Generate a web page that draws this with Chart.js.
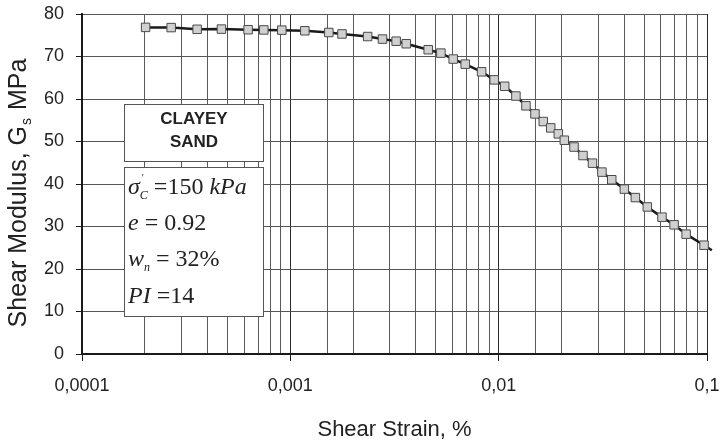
<!DOCTYPE html>
<html>
<head>
<meta charset="utf-8">
<script src="https://cdn.jsdelivr.net/npm/chart.js@4/dist/chart.umd.min.js"></script>
<style>
  html, body { margin: 0; padding: 0; background: #fff; }
  #wrap { width: 721px; height: 444px; position: relative; }
</style>
</head>
<body>
<div id="wrap"><canvas id="c" width="721" height="444"></canvas></div>
<script>
// ---- data ----
const shearStrain = [2.02e-4, 2.68e-4, 3.57e-4, 4.67e-4, 6.27e-4, 7.46e-4, 9.1e-4, 1.174e-3, 1.53e-3, 1.77e-3,
  2.35e-3, 2.77e-3, 3.22e-3, 3.6e-3, 4.59e-3, 5.28e-3, 6.05e-3, 6.91e-3, 8.28e-3, 9.52e-3,
  1.069e-2, 1.21e-2, 1.352e-2, 1.494e-2, 1.637e-2, 1.778e-2, 1.933e-2, 2.066e-2, 2.30e-2, 2.54e-2,
  2.82e-2, 3.13e-2, 3.49e-2, 4.01e-2, 4.53e-2, 5.17e-2, 6.08e-2, 6.95e-2, 7.94e-2, 9.68e-2, 0.1055];
const shearModulus = [76.85, 76.8, 76.4, 76.45, 76.3, 76.25, 76.2, 76.05, 75.65, 75.3,
  74.7, 74.1, 73.6, 73.0, 71.6, 70.8, 69.4, 68.2, 66.4, 64.5,
  63.0, 60.7, 58.4, 56.5, 54.7, 53.2, 51.8, 50.3, 48.7, 46.7,
  44.9, 42.8, 41.0, 38.8, 36.8, 34.6, 32.2, 30.4, 28.2, 25.6, 24.4];
const markerShown = shearStrain.map((v, i) => i < shearStrain.length - 1);
const xTickLabels = ['0,0001', '0,001', '0,01', '0,1'];
const yTickValues = [0, 10, 20, 30, 40, 50, 60, 70, 80];
const xTitle = 'Shear Strain, %';
const yTitleMain = 'Shear Modulus, G';
const yTitleSub = 's';
const yTitleEnd = ' MPa';
const soilName = ['CLAYEY', 'SAND'];

const points = shearStrain.map((x, i) => ({ x: x, y: shearModulus[i] }));

function isMajor(v) {
  const l = Math.log10(v);
  return Math.abs(l - Math.round(l)) < 1e-6;
}

function drawRich(ctx, x, y, segs) {
  let cx = x;
  segs.forEach(s => {
    ctx.font = (s.italic ? 'italic ' : '') + s.size + 'px "Liberation Serif", "Times New Roman", serif';
    ctx.fillText(s.t, cx + (s.dx || 0), y + (s.dy || 0));
    if (!s.noAdvance) cx += ctx.measureText(s.t).width + (s.dx || 0) + (s.gap || 0);
  });
}

const overlay = {
  id: 'overlay',
  afterDraw(chart) {
    const ctx = chart.ctx;
    const area = chart.chartArea;
    ctx.save();
    // axis titles
    ctx.fillStyle = '#222';
    ctx.font = '22px "Liberation Sans", Arial, sans-serif';
    ctx.textAlign = 'center';
    ctx.textBaseline = 'alphabetic';
    ctx.fillText(xTitle, (area.left + area.right) / 2, 436);

    ctx.save();
    const big = '25px "Liberation Sans", Arial, sans-serif';
    const small = '14px "Liberation Sans", Arial, sans-serif';
    ctx.font = big;
    const w1 = ctx.measureText(yTitleMain).width;
    const w3 = ctx.measureText(yTitleEnd).width;
    ctx.font = small;
    const w2 = ctx.measureText(yTitleSub).width + 2;
    const total = w1 + w2 + w3;
    ctx.translate(26, 193);
    ctx.rotate(-Math.PI / 2);
    ctx.textAlign = 'left';
    let sx = -total / 2;
    ctx.font = big;
    ctx.fillText(yTitleMain, sx, 0);
    sx += w1 + 1;
    ctx.font = small;
    ctx.fillText(yTitleSub, sx, 5);
    sx += w2 - 1;
    ctx.font = big;
    ctx.fillText(yTitleEnd, sx, 0);
    ctx.restore();

    // soil name box
    ctx.fillStyle = '#fff';
    ctx.strokeStyle = '#555';
    ctx.lineWidth = 1;
    ctx.fillRect(124, 104, 139, 57);
    ctx.strokeRect(124.5, 104.5, 139, 57);
    ctx.fillStyle = '#222';
    ctx.font = 'bold 17px "Liberation Sans", Arial, sans-serif';
    ctx.textAlign = 'center';
    ctx.fillText(soilName[0], 194, 124);
    ctx.fillText(soilName[1], 194, 147);

    // parameter box
    ctx.fillStyle = '#fff';
    ctx.fillRect(124, 167, 139, 149);
    ctx.strokeRect(124.5, 167.5, 139, 149);
    ctx.fillStyle = '#222';
    ctx.textAlign = 'left';
    drawRich(ctx, 128, 194, [
      { t: 'σ', italic: true, size: 24 },
      { t: "'", italic: false, size: 11, dy: -13, noAdvance: true, dx: 2 },
      { t: 'C', italic: true, size: 12, dy: 5 },
      { t: ' =150 ', italic: false, size: 24 },
      { t: 'kPa', italic: true, size: 24 }
    ]);
    drawRich(ctx, 128, 230, [
      { t: 'e', italic: true, size: 24 },
      { t: ' = 0.92', italic: false, size: 24 }
    ]);
    drawRich(ctx, 128, 266, [
      { t: 'w', italic: true, size: 24 },
      { t: 'n', italic: true, size: 12, dy: 5 },
      { t: ' = 32%', italic: false, size: 24 }
    ]);
    drawRich(ctx, 128, 303, [
      { t: 'PI', italic: true, size: 24 },
      { t: ' =14', italic: false, size: 24 }
    ]);
    ctx.restore();
  }
};

new Chart(document.getElementById('c'), {
  type: 'line',
  data: {
    datasets: [{
      data: points,
      borderColor: '#1a1a1a',
      borderWidth: 2.5,
      tension: 0,
      clip: false,
      pointStyle: 'rect',
      pointRadius: markerShown.map(s => s ? 6 : 0),
      pointBackgroundColor: '#d0d0d0',
      pointBorderColor: '#4a4a4a',
      pointBorderWidth: 1
    }]
  },
  options: {
    responsive: false,
    animation: false,
    events: [],
    layout: { padding: { top: 14, right: 14, left: 0, bottom: 0 } },
    plugins: { legend: { display: false }, tooltip: { enabled: false } },
    scales: {
      x: {
        type: 'logarithmic',
        min: 1e-4,
        max: 0.1,
        afterFit(scale) { scale.height = 90; scale.paddingLeft = 0; scale.paddingRight = 0; },
        grid: {
          color: ctx => (ctx.tick && isMajor(ctx.tick.value)) ? '#2a2a2a' : '#5a5a5a',
          lineWidth: 1,
          tickLength: 7,
          tickColor: ctx => (ctx.tick && isMajor(ctx.tick.value)) ? '#1a1a1a' : 'rgba(0,0,0,0)',
          drawTicks: true
        },
        border: { color: '#1a1a1a', width: 2 },
        ticks: {
          autoSkip: false,
          maxRotation: 0,
          minRotation: 0,
          padding: 14,
          color: '#222',
          font: { family: '"Liberation Sans", Arial, sans-serif', size: 18 },
          callback(v) {
            if (!isMajor(v)) return '';
            const e = Math.round(Math.log10(v));
            return xTickLabels[e + 4];
          }
        }
      },
      y: {
        type: 'linear',
        min: 0,
        max: 80,
        afterFit(scale) { scale.width = 82; scale.paddingTop = 0; scale.paddingBottom = 0; },
        afterBuildTicks(scale) { scale.ticks = yTickValues.map(v => ({ value: v })); },
        grid: { color: '#555', lineWidth: 1, tickLength: 6, tickColor: '#1a1a1a' },
        border: { color: '#1a1a1a', width: 2 },
        ticks: {
          padding: 12,
          color: '#222',
          font: { family: '"Liberation Sans", Arial, sans-serif', size: 18 }
        }
      }
    }
  },
  plugins: [overlay]
});
</script>
</body>
</html>
